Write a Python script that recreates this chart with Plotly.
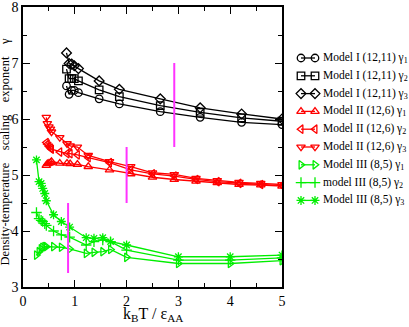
import plotly.graph_objects as go

# Model I (12,11)
t_m1 = [0.84, 0.89, 0.94, 0.99, 1.07, 1.47, 1.86, 2.65, 3.42, 4.22, 5.0]
m1_g1 = [6.59, 6.44, 6.51, 6.51, 6.47, 6.36, 6.27, 6.13, 6.03, 5.94, 5.90]
m1_g2 = [6.89, 6.72, 6.72, 6.72, 6.68, 6.52, 6.40, 6.24, 6.12, 6.02, 5.96]
m1_g3 = [7.18, 6.99, 6.98, 6.95, 6.90, 6.68, 6.53, 6.36, 6.20, 6.09, 6.00]

# Model II (12,6)
t_m2 = [0.45, 0.47, 0.50, 0.53, 0.55, 0.71, 0.85, 0.91, 1.05, 1.26, 1.67,
        2.08, 2.50, 2.92, 3.34, 3.75, 4.17, 4.59, 5.0]
m2_g1 = [5.17, 5.20, 5.21, 5.22, 5.24, 5.21, 5.21, 5.20, 5.19, 5.15, 5.09,
         5.02, 4.96, 4.92, 4.89, 4.86, 4.83, 4.82, 4.80]
m2_g2 = [5.58, 5.55, 5.51, 5.48, 5.46, 5.41, 5.38, 5.38, 5.36, 5.31, 5.22,
         5.09, 5.02, 4.98, 4.92, 4.88, 4.85, 4.83, 4.81]
m2_g3 = [6.03, 5.92, 5.86, 5.82, 5.77, 5.67, 5.56, 5.52, 5.50, 5.35, 5.24,
         5.15, 5.04, 5.01, 4.94, 4.90, 4.87, 4.85, 4.83]

# Model III (8,5)
t_m3 = [0.26, 0.31, 0.35, 0.38, 0.42, 0.45, 0.59, 0.74, 0.90, 1.22, 1.37,
        1.54, 1.69, 2.0, 3.0, 4.0, 5.0]
m3_g1 = [3.57, 3.63, 3.68, 3.71, 3.72, 3.72, 3.72, 3.71, 3.68, 3.60, 3.62,
         3.63, 3.67, 3.53, 3.42, 3.42, 3.47]
m3_g2 = [4.33, 4.22, 4.19, 4.17, 4.13, 4.10, 4.00, 3.93, 3.89, 3.75, 3.81,
         3.84, 3.81, 3.66, 3.48, 3.48, 3.52]
m3_g3 = [5.27, 4.88, 4.85, 4.76, 4.67, 4.54, 4.29, 4.17, 4.07, 3.88, 3.87,
         3.88, 3.81, 3.75, 3.54, 3.54, 3.57]

# magenta markers
mark_x = [0.87, 2.0, 2.92]
mark_lo = [3.25, 4.5, 5.5]
mark_hi = [4.5, 5.5, 7.0]

series = [
    ('Model I (12,11) γ<sub>1</sub>', t_m1, m1_g1, 'black', 'circle-open'),
    ('Model I (12,11) γ<sub>2</sub>', t_m1, m1_g2, 'black', 'square-open'),
    ('Model I (12,11) γ<sub>3</sub>', t_m1, m1_g3, 'black', 'diamond-open'),
    ('Model II (12,6) γ<sub>1</sub>', t_m2, m2_g1, '#ff0000', 'triangle-up-open'),
    ('Model II (12,6) γ<sub>2</sub>', t_m2, m2_g2, '#ff0000', 'triangle-left-open'),
    ('Model II (12,6) γ<sub>3</sub>', t_m2, m2_g3, '#ff0000', 'triangle-down-open'),
    ('Model III (8,5) γ<sub>1</sub>', t_m3, m3_g1, '#00ee00', 'triangle-right-open'),
    ('model III (8,5) γ<sub>2</sub>', t_m3, m3_g2, '#00ee00', 'cross-thin-open'),
    ('Model III (8,5) γ<sub>3</sub>', t_m3, m3_g3, '#00ee00', 'asterisk-open'),
]

W, H = 409, 327
L, R, T, B = 23, 2, 7, 40
pw = W - L - R
plot_right = 282          # right edge of the data area, px
leg_left = 284            # legend panel starts here, px

fig = go.Figure()
for i, (name, x, y, c, sym) in enumerate(series):
    mk = dict(symbol=sym, size=7.5, color=c, line=dict(color=c, width=1.3))
    fig.add_trace(go.Scatter(
        x=x, y=y, name=name, mode='lines+markers', showlegend=False,
        line=dict(color=c, width=1.3), marker=mk
    ))
    # xmgrace style legend sample: marker - line - marker, on a pixel axis
    ly = 58 + 17.8 * i
    fig.add_trace(go.Scatter(
        x=[301, 315], y=[ly, ly], mode='lines+markers', showlegend=False,
        xaxis='x2', yaxis='y2', hoverinfo='skip',
        line=dict(color=c, width=1.3), marker=mk
    ))
    fig.add_annotation(
        text=name, xref='x2', yref='y2', x=321, y=ly,
        xanchor='left', yanchor='middle', showarrow=False,
        font=dict(size=11.5)
    )

for mx, lo, hi in zip(mark_x, mark_lo, mark_hi):
    fig.add_trace(go.Scatter(
        x=[mx, mx], y=[lo, hi], mode='lines', showlegend=False,
        line=dict(color='#ff33ff', width=2)
    ))

fig.add_annotation(
    text='Density-temperature    scaling    exponent    γ',
    xref='x domain', yref='y domain', x=-0.068, y=0.482,
    xanchor='center', yanchor='middle', textangle=-90,
    showarrow=False, font=dict(size=12.5)
)
fig.add_annotation(
    text='k<sub>B</sub>T / ε<sub>AA</sub>',
    xref='x domain', yref='y domain', x=0.5, y=-0.058,
    xanchor='center', yanchor='top', showarrow=False, font=dict(size=16)
)

axis_style = dict(
    dtick=1, showgrid=False, zeroline=False,
    showline=True, linecolor='black', linewidth=1.5, mirror='allticks',
    ticks='inside', ticklen=7, tickcolor='black', ticklabeloverflow='allow',
    tickfont=dict(size=14),
    minor=dict(dtick=0.5, ticks='inside', ticklen=4, tickcolor='black')
)

fig.update_layout(
    width=W,
    height=H,
    paper_bgcolor='white',
    plot_bgcolor='white',
    font=dict(family='Liberation Serif', size=15, color='black'),
    margin=dict(l=L, r=R, t=T, b=B, autoexpand=False),
    showlegend=False,
    xaxis=dict(domain=[0, (plot_right - L) / pw], range=[0, 5], **axis_style),
    yaxis=dict(range=[3, 8], **axis_style),
    xaxis2=dict(domain=[(leg_left - L) / pw, 1], range=[leg_left, W - R],
                anchor='y2', visible=False, fixedrange=True),
    yaxis2=dict(domain=[0, 1], range=[H - B, T], anchor='x2',
                visible=False, fixedrange=True),
)

# page body has a default 8px margin; drop it so the figure fills the window
fig.write_html('out.html', config={'displayModeBar': False},
               post_script="document.body.style.margin='0';")
